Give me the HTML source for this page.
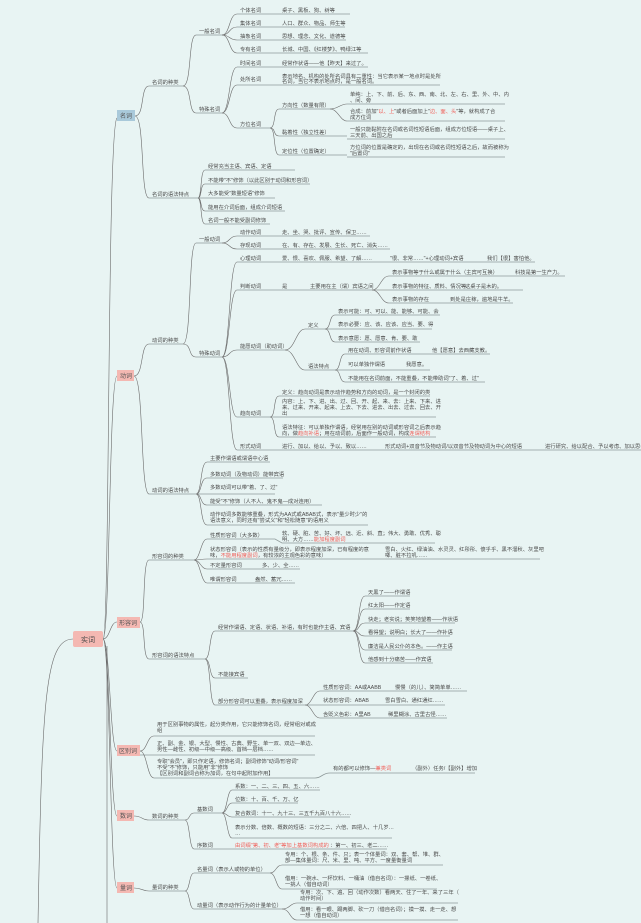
<!DOCTYPE html>
<html><head><meta charset="utf-8"><style>
html,body{margin:0;padding:0;background:#e8f4f3;}
svg{display:block;}
text{font-family:"Liberation Sans","Noto Sans CJK SC",sans-serif;font-size:5.3px;fill:#4a4a4a;}
.r{fill:#f0605a;}
.c{fill:none;stroke:#6a6a6a;stroke-width:0.6;}
.u{fill:none;stroke:#8f9a9a;stroke-width:0.8;}
.b{font-size:6px;fill:#555;}
</style></head><body>
<svg width="641" height="923" viewBox="0 0 641 923" xmlns="http://www.w3.org/2000/svg">
<rect width="641" height="923" fill="#e8f4f3"/>
<!-- trunk -->
<path class="c" d="M73 639 C45 639,42 700,38 923"/>
<path class="c" d="M103 639 C110 639,107 126,117 118"/>
<path class="c" d="M103 639 C110 639,109 376,117 376"/>
<path class="c" d="M103 639 C110 639,110 622,117 622"/>
<path class="c" d="M103 639 C110 639,110 751,117 751"/>
<path class="c" d="M103 639 C110 639,110 816,117 816"/>
<path class="c" d="M103 639 C110 639,110 888,117 888"/>
<path class="c" d="M107 646 L107 923"/>
<rect x="73" y="631" width="30" height="16" rx="2" fill="#f4b8b2"/>
<text x="81" y="642" style="font-size:7px">实词</text>
<rect x="117" y="110" width="18" height="11" fill="#a9c9da"/><text class="b" x="120" y="118">名词</text>
<rect x="117" y="370" width="17" height="11" fill="#f4b8b2"/><text class="b" x="120" y="378">动词</text>
<rect x="117" y="617" width="23" height="11" fill="#f4b8b2"/><text class="b" x="119" y="625">形容词</text>
<rect x="117" y="745" width="23" height="11" fill="#f4b8b2"/><text class="b" x="119" y="753">区别词</text>
<rect x="117" y="810" width="17" height="11" fill="#f4b8b2"/><text class="b" x="120" y="818">数词</text>
<rect x="117" y="882" width="17" height="11" fill="#f4b8b2"/><text class="b" x="120" y="890">量词</text>

<!-- 名词 -->
<path class="c" d="M135 116 C145 116,140 86,149 86"/><path class="u" d="M149 86H183"/><text x="152" y="84">名词的种类</text>
<path class="c" d="M135 116 C145 116,140 198,149 198"/><path class="u" d="M149 198H198"/><text x="152" y="196">名词的语法特点</text>
<path class="c" d="M183 86 C192 86,188 35,196 35"/><path class="u" d="M196 35H222"/><text x="199" y="33">一般名词</text>
<path class="c" d="M183 86 C192 86,188 113,196 113"/><path class="u" d="M196 113H222"/><text x="199" y="111">特殊名词</text>
<path class="c" d="M222 35 C230 35,229 14,237 14"/><path class="u" d="M237 14H350"/><text x="240" y="12">个体名词</text><text x="282" y="12">桌子、黑板、狗、树等</text>
<path class="c" d="M222 35 C230 35,229 27,237 27"/><path class="u" d="M237 27H345"/><text x="240" y="25">集体名词</text><text x="282" y="25">人口、群众、物品、师生等</text>
<path class="c" d="M222 35 C230 35,229 40,237 40"/><path class="u" d="M237 40H346"/><text x="240" y="38">抽象名词</text><text x="282" y="38">思想、理念、文化、道德等</text>
<path class="c" d="M222 35 C230 35,229 53,237 53"/><path class="u" d="M237 53H368"/><text x="240" y="51">专有名词</text><text x="282" y="51">长城、中国、《红楼梦》、鸭绿江等</text>
<path class="c" d="M222 113 C230 113,229 67,237 67"/><path class="u" d="M237 67H368"/><text x="240" y="65">时间名词</text><text x="282" y="65">经常作状语——他【昨天】来过了。</text>
<path class="c" d="M222 113 C230 113,229 85,237 85"/><path class="u" d="M237 85H440"/><text x="240" y="81">处所名词</text><text x="282" y="78">表示地名、机构的处所名词具有二重性：当它表示某一地点时是处所</text><text x="282" y="83">名词，当它不表示地点时，是一般名词。</text>
<path class="c" d="M222 113 C230 113,229 128,237 128"/><path class="u" d="M237 128H270"/><text x="240" y="126">方位名词</text>
<path class="c" d="M270 128 C276 128,273 109,279 109"/><path class="u" d="M279 109H330"/><text x="282" y="107">方向性（数量有限）</text>
<path class="c" d="M270 128 C276 128,273 136,279 136"/><path class="u" d="M279 136H347"/><text x="282" y="134">黏着性（独立性差）</text>
<path class="c" d="M270 128 C276 128,273 155,279 155"/><path class="u" d="M279 155H347"/><text x="282" y="153">定位性（位置确定）</text>
<path class="c" d="M330 109 C338 109,340 104,347 104"/><path class="u" d="M347 104H505"/><text x="350" y="96">单纯：上、下、前、后、东、西、南、北、左、右、里、外、中、内</text><text x="350" y="102">、间、旁</text>
<path class="c" d="M330 109 C338 109,340 121,347 121"/><path class="u" d="M347 121H505"/><text x="350" y="113">合成：前加"<tspan class="r">以、上</tspan>"或者后面加上"<tspan class="r">边、面、头</tspan>"等，就构成了合</text><text x="350" y="119">成方位词</text>
<path class="u" d="M347 139H505"/><text x="350" y="131">一般只能黏附在名词或名词性短语后面，组成方位短语——桌子上、</text><text x="350" y="137">三天前、出国之后</text>
<path class="u" d="M347 157H505"/><text x="350" y="149">方位词的位置是确定的，出现在名词或名词性短语之后，故而被称为</text><text x="350" y="155">"后置词"</text>
<path class="c" d="M198 198 C202 198,200 170,205 170"/><path class="u" d="M205 170H295"/><text x="208" y="168">经常充当主语、宾语、定语</text>
<path class="c" d="M198 198 C202 198,200 184,205 184"/><path class="u" d="M205 184H310"/><text x="208" y="182">不能带"不"修饰（以此区别于动词和形容词）</text>
<path class="u" d="M198 198H275"/><text x="208" y="195">大多能受"数量短语"修饰</text>
<path class="c" d="M198 198 C202 198,200 211,205 211"/><path class="u" d="M205 211H285"/><text x="208" y="209">能用在介词后面，组成介词短语</text>
<path class="c" d="M198 198 C202 198,200 224,205 224"/><path class="u" d="M205 224H270"/><text x="208" y="222">名词一般不能受副词修饰</text>

<!-- 动词 -->
<path class="c" d="M134 376 C144 376,140 344,149 344"/><path class="u" d="M149 344H183"/><text x="152" y="342">动词的种类</text>
<path class="c" d="M134 376 C144 376,140 494,149 494"/><path class="u" d="M149 494H196"/><text x="152" y="492">动词的语法特点</text>
<path class="c" d="M183 344 C192 344,188 243,196 243"/><path class="u" d="M196 243H222"/><text x="199" y="241">一般动词</text>
<path class="c" d="M183 344 C192 344,188 357,196 357"/><path class="u" d="M196 357H222"/><text x="199" y="355">特殊动词</text>
<path class="c" d="M222 243 C230 243,229 236,237 236"/><path class="u" d="M237 236H370"/><text x="240" y="234">动作动词</text><text x="282" y="234">走、坐、哭、批评、宣传、保卫……</text>
<path class="c" d="M222 243 C230 243,229 249,237 249"/><path class="u" d="M237 249H390"/><text x="240" y="247">存现动词</text><text x="282" y="247">在、有、存在、发展、生长、死亡、消失……</text>
<path class="c" d="M222 357 C230 357,229 262,237 262"/><path class="u" d="M237 262H535"/><text x="240" y="260">心理动词</text><text x="282" y="260">爱、恨、喜欢、佩服、希望、了解……</text><text x="390" y="260">"很、非常……"+心理动词+宾语</text><text x="487" y="260">我们【很】害怕他。</text>
<path class="c" d="M222 357 C230 357,229 290,237 290"/><path class="u" d="M237 290H372"/><text x="240" y="288">判断动词</text><text x="282" y="288">是</text><text x="310" y="288">主要用在主（谓）宾语之间</text>
<path class="c" d="M372 290 C380 290,381 276,389 276"/><path class="u" d="M389 276H565"/><text x="392" y="274">表示事物等于什么或属于什么（主宾可互换）</text><text x="515" y="274">科技是第一生产力。</text>
<path class="c" d="M372 290 C380 290,381 290,389 290"/><path class="u" d="M389 290H523"/><text x="392" y="288">表示事物的特征、质料、情况等</text><text x="465" y="288">这桌子是木的。</text>
<path class="c" d="M372 290 C380 290,381 303,389 303"/><path class="u" d="M389 303H513"/><text x="392" y="301">表示事物的存在</text><text x="450" y="301">到处是庄稼，遍地是牛羊。</text>
<path class="c" d="M222 357 C230 357,229 350,237 350"/><path class="u" d="M237 350H285"/><text x="240" y="348">能愿动词（助动词）</text>
<path class="c" d="M285 350 C295 350,296 329,305 329"/><path class="u" d="M305 329H325"/><text x="308" y="327">定义</text>
<path class="c" d="M285 350 C295 350,296 370,305 370"/><path class="u" d="M305 370H335"/><text x="308" y="368">语法特点</text>
<path class="c" d="M325 329 C331 329,329 315,335 315"/><path class="u" d="M335 315H440"/><text x="338" y="313">表示可能：可、可以、能、能够、可能、会</text>
<path class="u" d="M325 329H432"/><text x="338" y="326">表示必要：应、该、应该、应当、要、得</text>
<path class="c" d="M325 329 C331 329,329 342,335 342"/><path class="u" d="M335 342H420"/><text x="338" y="340">表示意愿：愿、愿意、肯、要、敢</text>
<path class="c" d="M335 370 C341 370,339 354,345 354"/><path class="u" d="M345 354H490"/><text x="348" y="352">用在动词、形容词前作状语</text><text x="432" y="352">他【愿意】去西藏支教。</text>
<path class="u" d="M335 370H430"/><text x="348" y="366">可以单独作谓语</text><text x="406" y="366">我愿意。</text>
<path class="c" d="M335 370 C341 370,339 382,345 382"/><path class="u" d="M345 382H485"/><text x="348" y="380">不能用在名词前面，不能重叠，不能带助词"了、着、过"</text>
<path class="c" d="M222 357 C230 357,229 417,237 417"/><path class="u" d="M237 417H270"/><text x="240" y="415">趋向动词</text>
<path class="c" d="M270 417 C276 417,273 396,279 396"/><path class="u" d="M279 396H430"/><text x="282" y="394">定义：趋向动词是表示动作趋势和方向的动词，是一个封闭的类</text>
<path class="u" d="M270 417H436"/><text x="282" y="403">内容：上、下、进、出、过、回、开、起、来、去：上来、下来、进</text><text x="282" y="409">来、过来、开来、起来、上去、下去、进去、出去、过去、回去、开</text><text x="282" y="415">出</text>
<path class="c" d="M270 417 C276 417,273 437,279 437"/><path class="u" d="M279 437H436"/><text x="282" y="429">语法特征：可以单独作谓语，经常用在别的动词或形容词之后表示趋</text><text x="282" y="435">向，做<tspan class="r">趋向补语</tspan>；用在动词前，后面作一般动词，构成<tspan class="r">连谓结构</tspan></text>
<path class="c" d="M222 357 C230 357,229 450,237 450"/><path class="u" d="M237 450H641"/><text x="240" y="448">形式动词</text><text x="282" y="448">进行、加以、给以、予以、致以……</text><text x="385" y="448">形式动词+双音节及物动词/以双音节及物动词为中心的短语</text><text x="545" y="448">进行研究、给以配合、予以考虑、加以思考</text>
<path class="c" d="M196 494 C202 494,200 462,207 462"/><path class="u" d="M207 462H270"/><text x="210" y="460">主要作谓语或谓语中心语</text>
<path class="c" d="M196 494 C202 494,200 478,207 478"/><path class="u" d="M207 478H283"/><text x="210" y="476">多数动词（及物动词）能带宾语</text>
<path class="u" d="M196 494H275"/><text x="210" y="489">多数动词可以带"着、了、过"</text>
<path class="c" d="M196 494 C202 494,200 505,207 505"/><path class="u" d="M207 505H322"/><text x="210" y="503">能受"不"修饰（人不人、鬼不鬼—成对连用）</text>
<path class="c" d="M196 494 C202 494,200 525,207 525"/><path class="u" d="M207 525H368"/><text x="210" y="516">动作动词多数能够重叠，形式为AA式或ABAB式，表示"量少时少"的</text><text x="210" y="522">语法意义，同时还有"尝试义"和"轻松随意"的语用义</text>

<!-- 形容词 -->
<path class="c" d="M140 622 C146 622,142 560,149 560"/><path class="u" d="M149 560H194"/><text x="152" y="558">形容词的种类</text>
<path class="c" d="M140 622 C146 622,142 659,149 659"/><path class="u" d="M149 659H205"/><text x="152" y="657">形容词的语法特点</text>
<path class="c" d="M194 560 C200 560,201 539,207 539"/><path class="u" d="M207 539H275 L282 543H435"/><text x="210" y="537">性质形容词（大多数）</text><text x="282" y="535">软、硬、脏、苦、好、坏、远、近、斜、直；伟大、勇敢、优秀、聪</text><text x="282" y="541">明、大方……<tspan class="r">能加程度副词</tspan></text>
<path class="c" d="M194 560 C200 560,201 559,207 559"/><path class="u" d="M207 559H540"/><text x="210" y="551">状态形容词（表示的性质有量级分，即表示程度加深，已有程度的意</text><text x="210" y="557">味，<tspan class="r">不能用程度副词</tspan>，有较浓的主观色彩的意味）</text><text x="385" y="551">雪白、火红、绿油油、水灵灵、红彤彤、傻乎乎、黑不溜秋、灰里吧</text><text x="385" y="557">唧、脏不拉叽……</text>
<path class="c" d="M194 560 C200 560,201 569,207 569"/><path class="u" d="M207 569H300"/><text x="210" y="567">不定量形容词</text><text x="262" y="567">多、少、全……</text>
<path class="c" d="M194 560 C200 560,201 583,207 583"/><path class="u" d="M207 583H295"/><text x="210" y="581">唯谓形容词</text><text x="255" y="581">盎然、蓄冗……</text>
<path class="c" d="M205 659 C211 659,209 631,215 631"/><path class="u" d="M215 631H353"/><text x="218" y="629">经常作谓语、定语、状语、补语，有时也能作主语、宾语</text>
<path class="c" d="M205 659 C211 659,209 678,215 678"/><path class="u" d="M215 678H248"/><text x="218" y="676">不能接宾语</text>
<path class="c" d="M205 659 C211 659,209 705,215 705"/><path class="u" d="M215 705H305"/><text x="218" y="703">部分形容词可以重叠，表示程度加深</text>
<path class="c" d="M353 631 C360 631,358 596,365 596"/><path class="u" d="M365 596H410"/><text x="368" y="594">天黑了——作谓语</text>
<path class="c" d="M353 631 C360 631,358 609,365 609"/><path class="u" d="M365 609H410"/><text x="368" y="607">红太阳——作定语</text>
<path class="c" d="M353 631 C360 631,358 623,365 623"/><path class="u" d="M365 623H455"/><text x="368" y="621">快走；老实说；笑笑地望着——作状语</text>
<path class="c" d="M353 631 C360 631,358 636,365 636"/><path class="u" d="M365 636H450"/><text x="368" y="634">看得望；说明白；长大了——作补语</text>
<path class="c" d="M353 631 C360 631,358 650,365 650"/><path class="u" d="M365 650H452"/><text x="368" y="648">廉洁是人民公仆的本色。——作主语</text>
<path class="c" d="M353 631 C360 631,358 663,365 663"/><path class="u" d="M365 663H433"/><text x="368" y="661">他感到十分痛苦——作宾语</text>
<path class="c" d="M305 705 C312 705,313 691,320 691"/><path class="u" d="M320 691H467"/><text x="323" y="689">性质形容词：AA或AABB</text><text x="395" y="689">慢慢（的儿）、简简单单……</text>
<path class="u" d="M305 705H445"/><text x="323" y="702">状态形容词：ABAB</text><text x="385" y="702">雪白雪白、通红通红……</text>
<path class="c" d="M305 705 C312 705,313 718,320 718"/><path class="u" d="M320 718H447"/><text x="323" y="716">含贬义色彩：A里AB</text><text x="388" y="716">稀里糊涂、古里古怪……</text>

<!-- 区别词 -->
<path class="c" d="M140 751 C147 751,147 736,154 736"/><path class="u" d="M154 736H315"/><text x="157" y="726">用于区别事物的属性，起分类作用，它只能修饰名词，经常组对或成</text><text x="157" y="732">组</text>
<path class="u" d="M140 755H315"/><text x="157" y="745">正、副、金、银、大型、慢性、古典、野生、单一双、双边—单边、</text><text x="157" y="751">男性—雌性、初级—中级—高级、首档—层档……</text>
<path class="c" d="M140 751 C147 751,147 778,154 778"/><path class="u" d="M154 778H315 C322 778,322 773,330 773H475"/><text x="157" y="763">专职"会员"，即只作定语，修饰名词；副词修饰"动词/形容词"</text><text x="157" y="769">不受"不"修饰，只能用"非"修饰</text><text x="157" y="775">【区别词和副词合称为加词，在句中起附加作用】</text>
<text x="333" y="770">有的都可以修饰—<tspan class="r">兼类词</tspan></text><text x="412" y="770">（副外）任务/【副外】增加</text>

<!-- 数词 -->
<path class="c" d="M134 816 C142 816,142 820,149 820"/><path class="u" d="M149 820H185"/><text x="152" y="818">数词的种类</text>
<path class="c" d="M185 820 C190 820,189 813,194 813"/><path class="u" d="M194 813H222"/><text x="197" y="811">基数词</text>
<path class="c" d="M185 820 C190 820,189 849,194 849"/><path class="u" d="M194 849H387"/><text x="197" y="847">序数词</text><text x="235" y="847" class="r">由词缀"第、初、老"等加上基数词构成的</text><text x="330" y="847">：第一、初三、老二……</text>
<path class="c" d="M222 813 C227 813,227 790,232 790"/><path class="u" d="M232 790H320"/><text x="235" y="788">系数：一、二、三、四、五、六……</text>
<path class="c" d="M222 813 C227 813,227 803,232 803"/><path class="u" d="M232 803H298"/><text x="235" y="801">位数：十、百、千、万、亿</text>
<path class="c" d="M222 813 C227 813,227 817,232 817"/><path class="u" d="M232 817H350"/><text x="235" y="815">复合数词：十一、九十三、三五千九百八十六……</text>
<path class="c" d="M222 813 C227 813,227 838,232 838"/><path class="u" d="M232 838H392"/><text x="235" y="829">表示分数、倍数、概数的短语：三分之二、六倍、四把人、十几岁…</text><text x="235" y="835">…</text>

<!-- 量词 -->
<path class="c" d="M134 888 C142 888,142 891,149 891"/><path class="u" d="M149 891H185"/><text x="152" y="889">量词的种类</text>
<path class="c" d="M185 891 C190 891,189 873,194 873"/><path class="u" d="M194 873H270"/><text x="197" y="871">名量词（表示人或物的单位）</text>
<path class="c" d="M185 891 C190 891,189 909,194 909"/><path class="u" d="M194 909H282"/><text x="197" y="907">动量词（表示动作行为的计量单位）</text>
<path class="c" d="M270 873 C276 873,276 865,282 865"/><path class="u" d="M282 865H443"/><text x="285" y="856">专用：个、根、条、件、只；表一个体量词：双、套、帮、堆、群、</text><text x="285" y="862">部—集体量词：尺、米、里、吨、平方、一度量衡量词</text>
<path class="c" d="M270 873 C276 873,276 889,282 889"/><path class="u" d="M282 889H437"/><text x="285" y="880">借用：一碗水、一杯饮料、一桶油（借自名词）：一摞纸、一卷纸、</text><text x="285" y="886">一挑人（借自动词）</text>
<path class="c" d="M282 909 C290 909,290 903,297 903"/><path class="u" d="M297 903H458"/><text x="300" y="894">专用：次、下、遍、回（动作次数）看两天、住了一年、来了三年（</text><text x="300" y="900">动作时间）</text>
<path class="c" d="M282 909 C290 909,290 920,297 920"/><path class="u" d="M297 920H458"/><text x="300" y="911">借用：看一眼、踢两脚、砍一刀（借自名词）；摸一摸、走一走、想</text><text x="300" y="917">一想（借自动词）</text>
</svg>
</body></html>
